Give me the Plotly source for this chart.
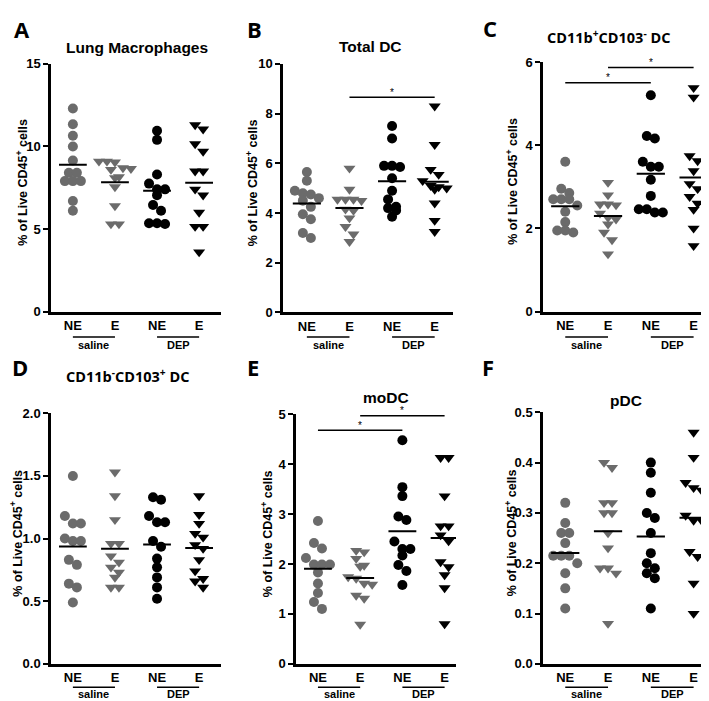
import plotly.graph_objects as go

W, H = 709, 701

# ---------------- data ----------------
group_labels = ["NE", "E", "NE", "E"]
treatment_labels = ["saline", "DEP"]
y_axis_label = "% of Live CD45<sup>+</sup> cells"

# A - Lung Macrophages
macro_saline_NE = [12.3, 11.35, 10.65, 10.0, 9.15, 8.4, 8.4, 7.9, 7.9, 7.9, 6.7, 6.1]
macro_saline_E = [9.1, 9.1, 9.05, 8.7, 8.65, 8.6, 8.15, 8.1, 7.55, 6.4, 5.3, 5.3]
macro_DEP_NE = [10.95, 10.4, 8.3, 7.75, 7.4, 7.4, 7.05, 6.45, 6.1, 5.35, 5.35, 5.3]
macro_DEP_E = [11.3, 11.05, 10.15, 9.7, 8.5, 8.5, 7.4, 7.05, 6.0, 5.15, 5.15, 3.6]

# B - Total DC
tdc_saline_NE = [5.65, 5.3, 4.9, 4.8, 4.75, 4.6, 4.5, 4.25, 3.95, 3.75, 3.2, 3.0]
tdc_saline_E = [5.8, 4.95, 4.55, 4.55, 4.55, 4.5, 4.15, 4.1, 3.8, 3.45, 3.15, 2.85]
tdc_DEP_NE = [7.5, 7.0, 5.9, 5.9, 5.85, 5.4, 4.9, 4.55, 4.25, 4.2, 4.1, 3.85]
tdc_DEP_E = [8.3, 6.75, 5.75, 5.55, 5.3, 5.1, 5.05, 5.0, 4.95, 4.4, 3.7, 3.25]

# C - CD11b+CD103- DC
cd11b_saline_NE = [3.6, 2.95, 2.85, 2.7, 2.7, 2.7, 2.55, 2.4, 2.15, 1.95, 1.95, 1.9]
cd11b_saline_E = [3.1, 2.8, 2.58, 2.58, 2.56, 2.36, 2.26, 2.22, 2.1, 1.9, 1.72, 1.38]
cd11b_DEP_NE = [5.2, 4.22, 4.16, 3.6, 3.48, 3.48, 3.17, 2.78, 2.46, 2.46, 2.38, 2.38]
cd11b_DEP_E = [5.38, 5.15, 3.74, 3.62, 3.38, 3.07, 2.95, 2.76, 2.6, 2.45, 2.0, 1.58]

# D - CD11b-CD103+ DC
cd103_saline_NE = [1.5, 1.18, 1.12, 1.12, 1.0, 0.98, 0.98, 0.83, 0.79, 0.64, 0.61, 0.49]
cd103_saline_E = [1.53, 1.34, 1.15, 0.96, 0.96, 0.86, 0.81, 0.77, 0.73, 0.69, 0.61, 0.61]
cd103_DEP_NE = [1.33, 1.31, 1.18, 1.13, 1.13, 0.98, 0.935, 0.84, 0.77, 0.69, 0.61, 0.52]
cd103_DEP_E = [1.34, 1.19, 1.12, 1.04, 1.01, 0.95, 0.92, 0.83, 0.74, 0.68, 0.66, 0.61]

# E - moDC
modc_saline_NE = [2.86, 2.42, 2.31, 2.12, 1.99, 1.99, 1.99, 1.83, 1.61, 1.42, 1.24, 1.10]
modc_saline_E = [2.27, 2.24, 2.11, 1.97, 1.95, 1.74, 1.71, 1.61, 1.59, 1.37, 1.31, 0.79]
modc_DEP_NE = [4.48, 3.54, 3.36, 2.95, 2.88, 2.45, 2.3, 2.3, 2.17, 1.98, 1.86, 1.58]
modc_DEP_E = [4.13, 4.13, 3.36, 2.76, 2.76, 2.58, 2.46, 2.04, 1.94, 1.78, 1.52, 0.8]

# F - pDC
pdc_saline_NE = [0.32, 0.28, 0.26, 0.26, 0.24, 0.215, 0.215, 0.215, 0.20, 0.18, 0.15, 0.11]
pdc_saline_E = [0.40, 0.39, 0.32, 0.32, 0.30, 0.30, 0.26, 0.23, 0.19, 0.19, 0.18, 0.08]
pdc_DEP_NE = [0.40, 0.38, 0.34, 0.30, 0.29, 0.26, 0.22, 0.20, 0.19, 0.18, 0.17, 0.11]
pdc_DEP_E = [0.46, 0.41, 0.36, 0.35, 0.345, 0.295, 0.285, 0.285, 0.223, 0.213, 0.16, 0.10]

# significance bars: (from group, to group, level)
sig_B = [(1, 3, 8.66)]
sig_C = [(1, 3, 5.87), (0, 2, 5.50)]
sig_E = [(1, 3, 4.97), (0, 2, 4.68)]

# ---------------- layout config ----------------
ARIAL = "Liberation Sans, Arial, sans-serif"
OPEN = "Open Sans, sans-serif"
GRAY = "#6b6b6b"
BLACK = "#000000"

panels = [
    dict(letter="A", title="Lung Macrophages", tfont=ARIAL, tsize=15.5,
         groups=[macro_saline_NE, macro_saline_E, macro_DEP_NE, macro_DEP_E],
         yticks=[0, 5, 10, 15], fmt="{:g}", sig=[],
         box=(43, 213, 50, 303), xr=(-0.52, 3.52), brk=(26, 34),
         letter_pos=(14, 14), title_pos=(129, 33), ytitle_x=14),
    dict(letter="B", title="Total DC", tfont=ARIAL, tsize=15.5,
         groups=[tdc_saline_NE, tdc_saline_E, tdc_DEP_NE, tdc_DEP_E],
         yticks=[0, 2, 4, 6, 8, 10], fmt="{:g}", sig=sig_B,
         box=(275, 445, 50, 304), xr=(-0.56, 3.43), brk=(25, 33),
         letter_pos=(246, 14), title_pos=(362, 32), ytitle_x=244),
    dict(letter="C", title="CD11b<sup>+</sup>CD103<sup>-</sup> DC", tfont=OPEN, tsize=14.5,
         groups=[cd11b_saline_NE, cd11b_saline_E, cd11b_DEP_NE, cd11b_DEP_E],
         yticks=[0, 2, 4, 6], fmt="{:g}", sig=sig_C,
         box=(535, 707, 48, 303), xr=(-0.52, 3.5), brk=(26, 34),
         letter_pos=(482, 13), title_pos=(600, 22), ytitle_x=504),
    dict(letter="D", title="CD11b<sup>-</sup>CD103<sup>+</sup> DC", tfont=OPEN, tsize=14.5,
         groups=[cd103_saline_NE, cd103_saline_E, cd103_DEP_NE, cd103_DEP_E],
         yticks=[0, 0.5, 1.0, 1.5, 2.0], fmt="{:.1f}", sig=[],
         box=(43, 213, 407, 663), xr=(-0.52, 3.52), brk=(24, 31),
         letter_pos=(12, 360), title_pos=(120, 368), ytitle_x=8),
    dict(letter="E", title="moDC", tfont=ARIAL, tsize=15.5,
         groups=[modc_saline_NE, modc_saline_E, modc_DEP_NE, modc_DEP_E],
         yticks=[0, 1, 2, 3, 4, 5], fmt="{:g}", sig=sig_E,
         box=(288, 448, 408, 663), xr=(-0.52, 3.27), brk=(24, 31),
         letter_pos=(245, 360), title_pos=(378, 391), ytitle_x=259),
    dict(letter="F", title="pDC", tfont=ARIAL, tsize=15.5,
         groups=[pdc_saline_NE, pdc_saline_E, pdc_DEP_NE, pdc_DEP_E],
         yticks=[0, 0.1, 0.2, 0.3, 0.4, 0.5], fmt="{:.1f}", sig=[],
         box=(535, 707, 406, 663), xr=(-0.52, 3.5), brk=(24, 31),
         letter_pos=(480, 360), title_pos=(618, 394), ytitle_x=503),
]

group_colors = [GRAY, GRAY, BLACK, BLACK]
group_symbols = ["circle", "triangle-down", "circle", "triangle-down"]
group_sizes = [10, 10.5, 10, 10.5]


def px2x(px):
    return px / W


def px2y(py):
    return 1 - py / H


def swarm(values, px_per_unit, px_per_cat, d):
    """Row-based dot-plot spreading (like a column scatter)."""
    n = len(values)
    order = sorted(range(n), key=lambda i: -values[i])
    rows = []
    for i in order:
        y = values[i] * px_per_unit
        if rows and rows[-1][0] - y < d * 0.8:
            rows[-1][1].append(i)
        else:
            rows.append([y, [i]])
    offs = [0.0] * n
    spacing = d * 0.8
    for _, idx in rows:
        k = len(idx)
        for j, i in enumerate(idx):
            offs[i] = (j - (k - 1) / 2) * spacing / px_per_cat
    return offs


def bold(s):
    return "<b>" + s + "</b>"


fig = go.Figure()
annotations = []
shapes = []
layout = {}

for p_i, P in enumerate(panels):
    n = p_i + 1
    xa = "x" if n == 1 else f"x{n}"
    ya = "y" if n == 1 else f"y{n}"
    xkey = "xaxis" if n == 1 else f"xaxis{n}"
    ykey = "yaxis" if n == 1 else f"yaxis{n}"
    x0, x1, y0, y1 = P["box"]
    ymax = P["yticks"][-1]
    px_per_unit = (y1 - y0) / ymax
    px_per_cat = (x1 - x0) / (P["xr"][1] - P["xr"][0])

    for g, vals in enumerate(P["groups"]):
        offs = swarm(vals, px_per_unit, px_per_cat, 10)
        fig.add_trace(go.Scatter(
            x=[g + o for o in offs], y=vals, xaxis=xa, yaxis=ya,
            mode="markers", cliponaxis=False, showlegend=False,
            marker=dict(symbol=group_symbols[g], size=group_sizes[g],
                        color=group_colors[g], line=dict(width=0)),
        ))
        m = sum(vals) / len(vals)
        fig.add_trace(go.Scatter(
            x=[g - 0.33, g + 0.33], y=[m, m], xaxis=xa, yaxis=ya,
            mode="lines", cliponaxis=False, showlegend=False,
            line=dict(color=BLACK, width=2),
        ))

    for (a, b, lvl) in P["sig"]:
        fig.add_trace(go.Scatter(
            x=[a, b], y=[lvl, lvl], xaxis=xa, yaxis=ya, mode="lines",
            cliponaxis=False, showlegend=False, line=dict(color=BLACK, width=1.5),
        ))
        annotations.append(dict(x=(a + b) / 2, y=lvl, xref=xa, yref=ya, text="*",
                                showarrow=False, yanchor="middle", yshift=5,
                                font=dict(family=ARIAL, size=10, color=BLACK)))

    layout[xkey] = dict(
        domain=[px2x(x0), px2x(x1)], range=list(P["xr"]), anchor=ya,
        showline=True, linecolor=BLACK, linewidth=2.5, showgrid=False, zeroline=False,
        tickvals=[0, 1, 2, 3], ticktext=[bold(t) for t in group_labels],
        ticks="", ticklabelstandoff=0,
        tickfont=dict(family=ARIAL, size=13, color=BLACK),
    )
    layout[ykey] = dict(
        domain=[px2y(y1), px2y(y0)], range=[0, ymax], anchor=xa,
        showline=True, linecolor=BLACK, linewidth=2.5, showgrid=False, zeroline=False,
        tickvals=P["yticks"], ticktext=[bold(P["fmt"].format(v)) for v in P["yticks"]],
        ticks="outside", ticklen=5, tickwidth=2, tickcolor=BLACK,
        tickfont=dict(family=ARIAL, size=13, color=BLACK),
    )

    # group brackets + labels
    line_off, text_off = P["brk"]
    for t_i, lab in enumerate(treatment_labels):
        ga, gb = 2 * t_i, 2 * t_i + 1
        shapes.append(dict(type="line", xref=xa, yref="paper", x0=ga, x1=gb,
                           y0=px2y(y1 + line_off), y1=px2y(y1 + line_off),
                           line=dict(color=BLACK, width=1.5)))
        annotations.append(dict(x=(ga + gb) / 2, y=px2y(y1 + text_off), xref=xa, yref="paper",
                                text=bold(lab), showarrow=False, yanchor="middle",
                                font=dict(family=ARIAL, size=11, color=BLACK)))

    # panel letter
    lx, ly = P["letter_pos"]
    annotations.append(dict(x=px2x(lx), y=px2y(ly), xref="paper", yref="paper",
                            text=bold(P["letter"]), showarrow=False, xanchor="center",
                            yanchor="middle",
                            font=dict(family=OPEN, size=22, color=BLACK)))
    # title
    tx, ty = P["title_pos"]
    annotations.append(dict(x=px2x(tx), y=px2y(ty), xref="paper", yref="paper",
                            text=bold(P["title"]), showarrow=False, xanchor="center",
                            yanchor="middle",
                            font=dict(family=P["tfont"], size=P["tsize"], color=BLACK)))
    # y-axis title
    annotations.append(dict(x=px2x(P["ytitle_x"]), y=px2y((y0 + y1) / 2 - 5), xref="paper",
                            yref="paper", text=bold(y_axis_label), textangle=-90,
                            showarrow=False, xanchor="center", yanchor="middle",
                            font=dict(family=ARIAL, size=12.5, color=BLACK)))

fig.update_layout(
    width=W, height=H, margin=dict(l=0, r=0, t=0, b=0),
    paper_bgcolor="white", plot_bgcolor="white",
    annotations=annotations, shapes=shapes, showlegend=False, **layout,
)

fig.write_html("out.html")
